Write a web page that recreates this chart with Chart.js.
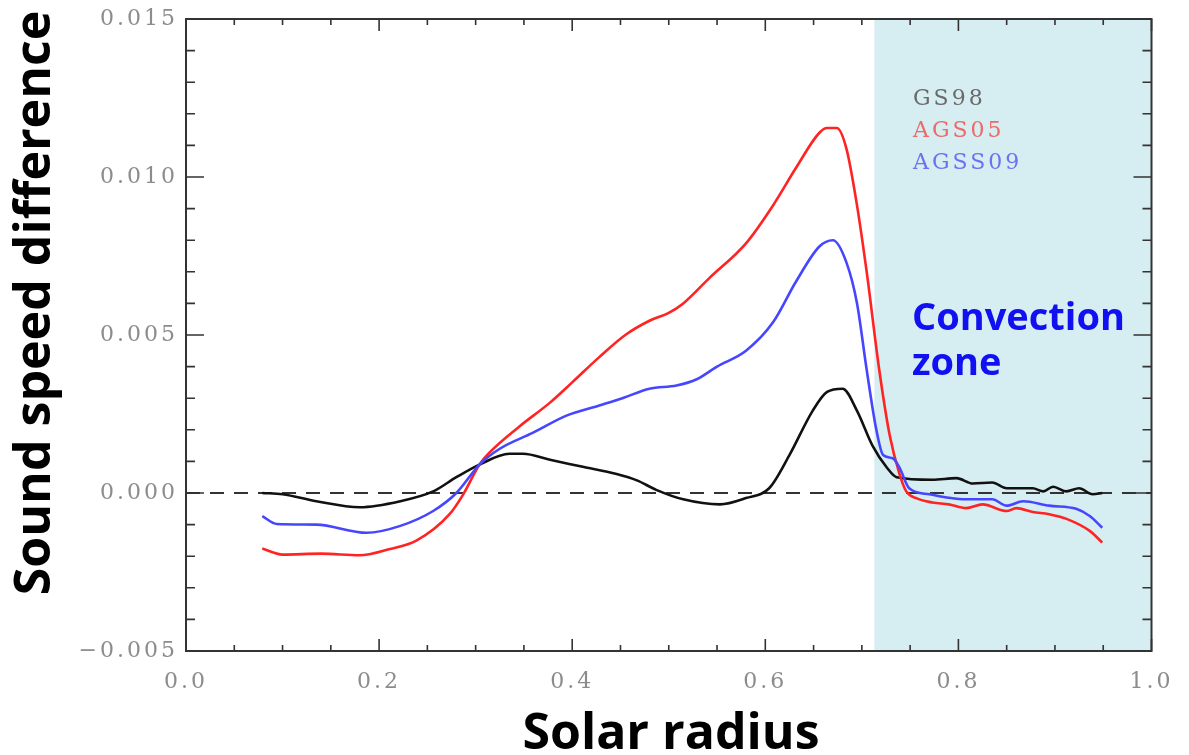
<!DOCTYPE html>
<html>
<head>
<meta charset="utf-8">
<script src="https://cdn.jsdelivr.net/npm/chart.js@4.4.1/dist/chart.umd.min.js"></script>
<style>
  html, body { margin: 0; padding: 0; background: #fff; }
  canvas { display: block; }
</style>
</head>
<body>
<canvas id="soundSpeedChart" width="1189" height="755"></canvas>
<script>
// relative sound speed difference (sun - model) vs. fractional solar radius
const gs98Radius = [0.079, 0.10, 0.135, 0.18, 0.222, 0.256, 0.28, 0.304, 0.335, 0.349, 0.377, 0.411, 0.446, 0.467, 0.487, 0.515, 0.553, 0.58, 0.604, 0.625, 0.649, 0.664, 0.68, 0.695, 0.711, 0.726, 0.736, 0.773, 0.798, 0.815, 0.835, 0.85, 0.877, 0.888, 0.898, 0.912, 0.925, 0.939, 0.949];
const gs98Values = [0.0, -0.00004, -0.00026, -0.00045, -0.00026, 0.00005, 0.0005, 0.0009, 0.00124, 0.00124, 0.00105, 0.00083, 0.0006, 0.0004, 0.0001, -0.0002, -0.00036, -0.00016, 0.00015, 0.0012, 0.0026, 0.0032, 0.0033, 0.0026, 0.0015, 0.0008, 0.0005, 0.00042, 0.00047, 0.0003, 0.00033, 0.00015, 0.00015, 0.00005, 0.0002, 0.00005, 0.00015, -0.00004, 0.0];

const ags05Radius = [0.079, 0.10, 0.14, 0.18, 0.21, 0.239, 0.273, 0.287, 0.304, 0.315, 0.345, 0.377, 0.40, 0.428, 0.455, 0.48, 0.50, 0.515, 0.542, 0.58, 0.608, 0.632, 0.656, 0.664, 0.674, 0.684, 0.695, 0.705, 0.718, 0.729, 0.739, 0.746, 0.757, 0.773, 0.79, 0.808, 0.825, 0.85, 0.86, 0.877, 0.894, 0.912, 0.936, 0.949];
const ags05Values = [-0.00176, -0.00195, -0.00192, -0.00197, -0.00178, -0.0015, -0.00067, -0.00005, 0.0009, 0.0013, 0.0021, 0.00286, 0.0035, 0.0043, 0.0050, 0.00545, 0.0057, 0.0060, 0.0068, 0.0079, 0.0091, 0.0103, 0.0114, 0.01155, 0.01155, 0.0109, 0.0091, 0.0070, 0.0039, 0.0018, 0.0006, 0.00005, -0.00017, -0.0003, -0.00036, -0.00048, -0.00036, -0.00057, -0.00048, -0.0006, -0.00067, -0.00082, -0.0012, -0.00157];

const agss09Radius = [0.079, 0.094, 0.135, 0.187, 0.222, 0.256, 0.28, 0.304, 0.325, 0.359, 0.394, 0.428, 0.452, 0.48, 0.508, 0.529, 0.55, 0.58, 0.608, 0.632, 0.656, 0.67, 0.684, 0.695, 0.705, 0.715, 0.722, 0.732, 0.739, 0.749, 0.77, 0.79, 0.808, 0.835, 0.85, 0.867, 0.894, 0.922, 0.936, 0.949];
const agss09Values = [-0.00073, -0.00098, -0.0010, -0.00126, -0.00104, -0.00057, 0.0, 0.0009, 0.0014, 0.0019, 0.00245, 0.00277, 0.0030, 0.0033, 0.0034, 0.0036, 0.0040, 0.0045, 0.0054, 0.0067, 0.0078, 0.0080, 0.0073, 0.0060, 0.0039, 0.0020, 0.0012, 0.0011, 0.0008, 0.00015, -0.00004, -0.00015, -0.0002, -0.0002, -0.0004, -0.00026, -0.0004, -0.0005, -0.00073, -0.0011];

const zeroLineRadius = [0, 1];
const zeroLineValues = [0, 0];

const convectionZoneBase = 0.713;
const seriesNames = ["GS98", "AGS05", "AGSS09"];
const legendColors = ["#6a6a6a", "#ec6a6a", "#7070f0"];

function toPoints(xs, ys) {
  return xs.map((x, i) => ({ x: x, y: ys[i] }));
}

const solarPlot = {
  id: "solarPlot",
  beforeDraw(chart) {
    // wide spacing for the serif tick labels
    chart.ctx.letterSpacing = "3px";
  },
  beforeDatasetsDraw(chart) {
    const { ctx, chartArea, scales } = chart;
    const left = scales.x.getPixelForValue(convectionZoneBase);
    ctx.save();
    ctx.fillStyle = "#d6edf1";
    ctx.fillRect(left, chartArea.top, chartArea.right - left, chartArea.bottom - chartArea.top);
    ctx.restore();
  },
  afterDatasetsDraw(chart) {
    const { ctx, chartArea: a, scales } = chart;
    ctx.save();
    ctx.strokeStyle = "#333";
    ctx.lineWidth = 2;
    ctx.strokeRect(a.left, a.top, a.right - a.left, a.bottom - a.top);

    // inward ticks on all four sides
    ctx.lineWidth = 1.6;
    ctx.beginPath();
    for (let k = -5; k <= 15; k++) {
      const py = scales.y.getPixelForValue(k / 1000);
      const len = k % 5 === 0 ? 18 : 9;
      ctx.moveTo(a.left, py); ctx.lineTo(a.left + len, py);
      ctx.moveTo(a.right, py); ctx.lineTo(a.right - len, py);
    }
    for (let k = 0; k <= 20; k++) {
      const px = scales.x.getPixelForValue(k / 20);
      const len = k % 4 === 0 ? 12 : 6;
      ctx.moveTo(px, a.bottom); ctx.lineTo(px, a.bottom - len);
      ctx.moveTo(px, a.top); ctx.lineTo(px, a.top + len);
    }
    ctx.stroke();

    // series key
    ctx.font = "22px 'DejaVu Serif'";
    ctx.textBaseline = "middle";
    ctx.textAlign = "left";
    seriesNames.forEach((name, i) => {
      ctx.fillStyle = legendColors[i];
      ctx.fillText(name, 913, 99 + i * 32);
    });

    ctx.letterSpacing = "0px";
    ctx.fillStyle = "#1010f0";
    ctx.font = "bold 38px 'Open Sans'";
    ctx.textBaseline = "alphabetic";
    ctx.fillText("Convection", 912, 330);
    ctx.fillText("zone", 912, 375);
    ctx.restore();
  },
  afterDraw(chart) {
    const ctx = chart.ctx;
    ctx.save();
    ctx.letterSpacing = "0px";
    ctx.fillStyle = "#000";
    ctx.font = "bold 50px 'Open Sans'";
    ctx.textAlign = "center";
    ctx.textBaseline = "alphabetic";
    ctx.fillText("Solar radius", 671, 749);
    ctx.translate(36, 303);
    ctx.rotate(-Math.PI / 2);
    ctx.textBaseline = "middle";
    ctx.fillText("Sound speed difference", 0, 0);
    ctx.restore();
  }
};

const lineStyle = {
  pointRadius: 0,
  borderWidth: 2.6,
  fill: false,
  cubicInterpolationMode: "monotone"
};

const tickFont = { family: "'DejaVu Serif'", size: 22, lineHeight: 1 };

new Chart(document.getElementById("soundSpeedChart"), {
  type: "line",
  data: {
    datasets: [
      { label: "zero", data: toPoints(zeroLineRadius, zeroLineValues), borderColor: "#333", borderWidth: 2, borderDash: [14, 10], pointRadius: 0, order: 4 },
      { label: "GS98", data: toPoints(gs98Radius, gs98Values), borderColor: "#111111", ...lineStyle, order: 3 },
      { label: "AGS05", data: toPoints(ags05Radius, ags05Values), borderColor: "#ff2424", ...lineStyle, order: 2 },
      { label: "AGSS09", data: toPoints(agss09Radius, agss09Values), borderColor: "#4646ff", ...lineStyle, order: 1 }
    ]
  },
  options: {
    responsive: false,
    animation: false,
    layout: { padding: { top: 12, right: 37, left: 0, bottom: 0 } },
    scales: {
      x: {
        type: "linear",
        min: 0,
        max: 1,
        grid: { display: false, drawTicks: false },
        border: { display: false },
        afterFit: (scale) => { scale.height = 104; },
        ticks: {
          stepSize: 0.2,
          padding: 20,
          color: "#8c8c8c",
          font: tickFont,
          maxRotation: 0,
          callback: (v) => v.toFixed(1)
        }
      },
      y: {
        type: "linear",
        min: -0.005,
        max: 0.015,
        grid: { display: false, drawTicks: false },
        border: { display: false },
        afterFit: (scale) => { scale.width = 186; },
        ticks: {
          stepSize: 0.005,
          padding: 8,
          color: "#8c8c8c",
          font: tickFont,
          callback: (v) => (v < 0 ? "\u2212" : "") + Math.abs(v).toFixed(3)
        }
      }
    },
    plugins: {
      legend: { display: false },
      tooltip: { enabled: false }
    }
  },
  plugins: [solarPlot]
});
</script>
</body>
</html>
